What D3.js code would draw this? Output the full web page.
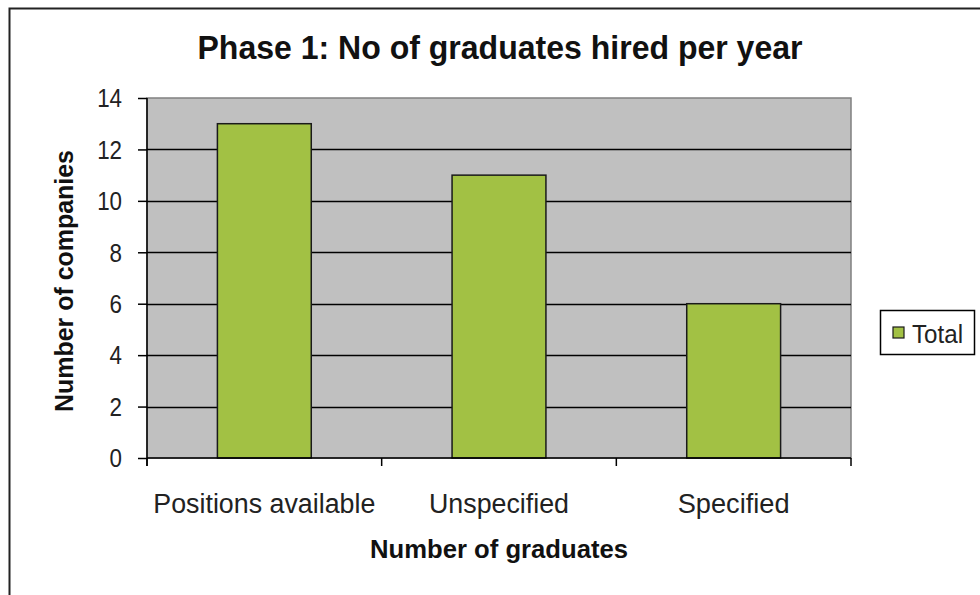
<!DOCTYPE html>
<html>
<head>
<meta charset="utf-8">
<script src="https://cdn.jsdelivr.net/npm/d3@7"></script>
<style>
  html, body { margin: 0; padding: 0; background: #fff; }
  svg { display: block; font-family: "Liberation Sans", Arial, sans-serif; }
</style>
</head>
<body>
<svg id="chart" width="980" height="595"></svg>
<script>
const categories = ["Positions available", "Unspecified", "Specified"];
const totals = [13, 11, 6];
const yTicks = [0, 2, 4, 6, 8, 10, 12, 14];
const seriesName = "Total";
const titleText = "Phase 1: No of graduates hired per year";
const xTitle = "Number of graduates";
const yTitle = "Number of companies";

const svg = d3.select("#chart");
const plot = { left: 147, top: 98, right: 851, bottom: 458 };
const FF = "'Liberation Sans', Arial, sans-serif";

// condense text horizontally to mimic the stretched raster
function squeeze(sel, k) {
  sel.each(function () {
    const w = this.getComputedTextLength();
    d3.select(this).attr("textLength", w * k).attr("lengthAdjust", "spacingAndGlyphs");
  });
}

// outer chart border (extends past the right/bottom edges)
svg.append("rect").attr("x", 9.5).attr("y", 8.5).attr("width", 1000).attr("height", 1000)
  .attr("fill", "#fff").attr("stroke", "#222").attr("stroke-width", 2);

const x = d3.scaleBand().domain(categories).range([plot.left, plot.right]).padding(0);
const y = d3.scaleLinear().domain([0, 14]).range([plot.bottom, plot.top]);

// plot area
svg.append("rect").attr("x", plot.left).attr("y", plot.top)
  .attr("width", plot.right - plot.left).attr("height", plot.bottom - plot.top)
  .attr("fill", "#c0c0c0").attr("stroke", "#808080").attr("stroke-width", 1.5);

// gridlines
svg.append("g").selectAll("line").data(yTicks.filter(d => d > 0 && d < 14)).join("line")
  .attr("x1", plot.left).attr("x2", plot.right)
  .attr("y1", d => Math.round(y(d)) + 0.5).attr("y2", d => Math.round(y(d)) + 0.5)
  .attr("stroke", "#000").attr("stroke-width", 1.5);

// bars
const barW = x.bandwidth() * 0.4;
svg.append("g").selectAll("rect").data(totals).join("rect")
  .attr("x", (d, i) => x(categories[i]) + (x.bandwidth() - barW) / 2)
  .attr("y", d => y(d))
  .attr("width", barW)
  .attr("height", d => y(0) - y(d))
  .attr("fill", "#a2c144").attr("stroke", "#1a1a1a").attr("stroke-width", 1.5);

// y axis
const yAxis = d3.axisLeft(y).tickValues(yTicks).tickSize(9).tickPadding(16);
const ya = svg.append("g").attr("transform", `translate(${plot.left},0)`).call(yAxis);
ya.select(".domain").attr("stroke", "#000").attr("stroke-width", 1.5).attr("d", `M-0,${plot.top}V${plot.bottom + 8}`);
ya.selectAll(".tick line").attr("stroke", "#000").attr("stroke-width", 1.5);
ya.selectAll(".tick text").attr("font-size", 26).attr("fill", "#222").attr("font-family", FF)
  .attr("dy", "0.34em").call(squeeze, 0.86);

// x axis
const xBounds = categories.map(c => x(c)).concat([plot.right]);
const xa = svg.append("g");
xa.append("line").attr("x1", plot.left).attr("x2", plot.right)
  .attr("y1", plot.bottom).attr("y2", plot.bottom).attr("stroke", "#000").attr("stroke-width", 1.5);
xa.selectAll("line.tk").data(xBounds).join("line").attr("class", "tk")
  .attr("x1", d => d).attr("x2", d => d).attr("y1", plot.bottom).attr("y2", plot.bottom + 8)
  .attr("stroke", "#000").attr("stroke-width", 1.5);
const xLabelW = [222, 140, 112];
xa.selectAll("text").data(categories).join("text")
  .attr("x", d => x(d) + x.bandwidth() / 2).attr("y", 513)
  .attr("text-anchor", "middle").attr("font-size", 27).attr("fill", "#222")
  .attr("textLength", (d, i) => xLabelW[i]).attr("lengthAdjust", "spacingAndGlyphs")
  .text(d => d);

// titles
svg.append("text").attr("x", 500).attr("y", 59).attr("text-anchor", "middle")
  .attr("font-size", 33).attr("font-weight", "bold").attr("fill", "#111")
  .attr("textLength", 605).attr("lengthAdjust", "spacingAndGlyphs").text(titleText);
svg.append("text").attr("x", 499).attr("y", 558).attr("text-anchor", "middle")
  .attr("font-size", 26).attr("font-weight", "bold").attr("fill", "#111")
  .attr("textLength", 258).attr("lengthAdjust", "spacingAndGlyphs").text(xTitle);
svg.append("text").attr("transform", "translate(73,281) rotate(-90)").attr("text-anchor", "middle")
  .attr("font-size", 25).attr("font-weight", "bold").attr("fill", "#111")
  .attr("textLength", 262).attr("lengthAdjust", "spacingAndGlyphs").text(yTitle);

// legend
const lg = svg.append("g");
lg.append("rect").attr("x", 880.5).attr("y", 310.5).attr("width", 94).attr("height", 44)
  .attr("fill", "#fff").attr("stroke", "#000").attr("stroke-width", 1.5);
lg.append("rect").attr("x", 893).attr("y", 327).attr("width", 11).attr("height", 11)
  .attr("fill", "#a2c144").attr("stroke", "#1a1a1a").attr("stroke-width", 1.2);
lg.append("text").attr("x", 912).attr("y", 343).attr("font-size", 25).attr("fill", "#222")
  .attr("textLength", 51).attr("lengthAdjust", "spacingAndGlyphs").text(seriesName);
</script>
</body>
</html>
